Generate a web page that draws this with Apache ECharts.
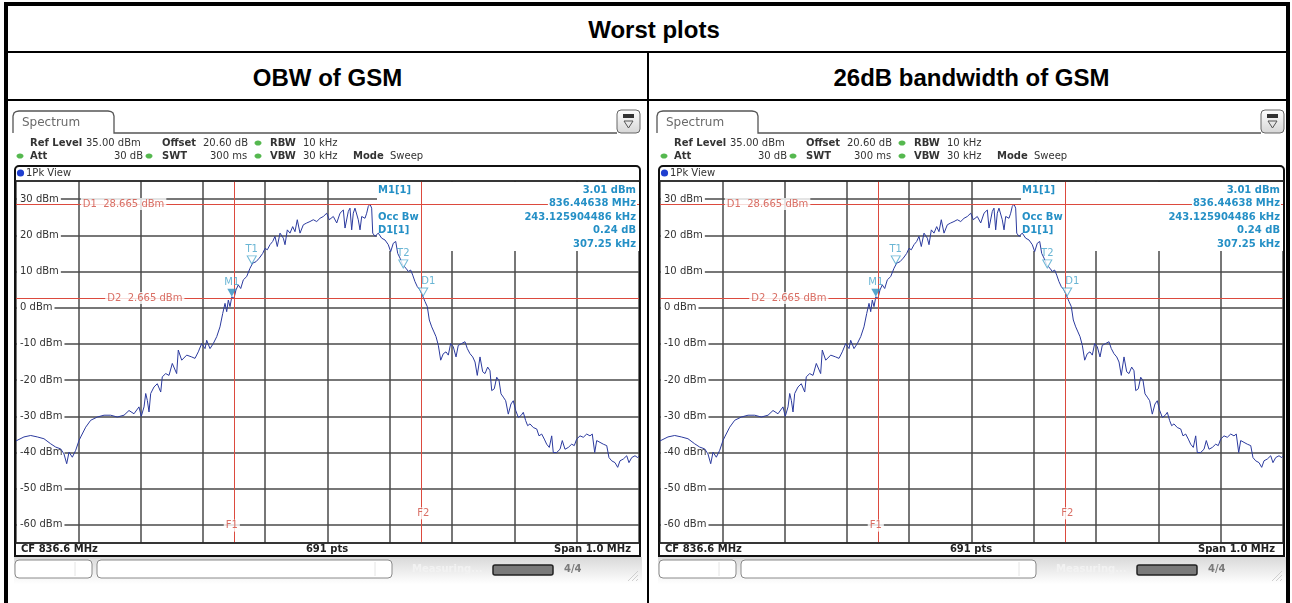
<!DOCTYPE html>
<html>
<head>
<meta charset="utf-8">
<title>Worst plots</title>
<script src="https://cdn.jsdelivr.net/npm/echarts@6/dist/echarts.min.js"></script>
<style>
  html, body { margin: 0; padding: 0; background: #fff; }
  #page { position: relative; width: 1292px; height: 603px; overflow: hidden; font-family: "Liberation Sans", Arial, sans-serif; }
  .ln { position: absolute; background: #000; }
  .hd { position: absolute; font-weight: bold; font-size: 24px; line-height: 24px; text-align: center; color: #000; }
  #chart { position: absolute; left: 0; top: 0; width: 1292px; height: 603px; }
</style>
</head>
<body>
<div id="page">
  <div class="ln" style="left:4px;top:2px;width:4px;height:601px"></div>
  <div class="ln" style="left:4px;top:2px;width:1286px;height:4px"></div>
  <div class="ln" style="left:1286px;top:2px;width:4px;height:601px"></div>
  <div class="ln" style="left:4px;top:51px;width:1286px;height:2px"></div>
  <div class="ln" style="left:4px;top:99px;width:1286px;height:2px"></div>
  <div class="ln" style="left:647px;top:51px;width:2px;height:552px"></div>
  <div class="hd" style="left:8px;width:1292px;top:18px">Worst plots</div>
  <div class="hd" style="left:8px;width:639px;top:66px">OBW of GSM</div>
  <div class="hd" style="left:653px;width:637px;top:66px">26dB bandwidth of GSM</div>
  <div id="chart"></div>
</div>
<script>
// trace (MHz / dBm)
const freqMHz = [
  836.1000, 836.1021, 836.1128, 836.1236, 836.1342, 836.1449, 836.1557, 836.1637, 836.1717, 836.1770,
  836.1814, 836.1851, 836.1904, 836.1958, 836.2011, 836.2039, 836.2119, 836.2199, 836.2305, 836.2413,
  836.2520, 836.2626, 836.2734, 836.2814, 836.2894, 836.2974, 836.3011, 836.3055, 836.3082, 836.3108,
  836.3135, 836.3162, 836.3215, 836.3268, 836.3323, 836.3348, 836.3403, 836.3456, 836.3509, 836.3525,
  836.3579, 836.3605, 836.3660, 836.3740, 836.3820, 836.3873, 836.3926, 836.3981, 836.4034, 836.4061,
  836.4114, 836.4167, 836.4222, 836.4274, 836.4318, 836.4355, 836.4382, 836.4408, 836.4435, 836.4464,
  836.4499, 836.4531, 836.4568, 836.4607, 836.4649, 836.4703, 836.4756, 836.4799, 836.4852, 836.4905,
  836.4960, 836.4997, 836.5034, 836.5077, 836.5120, 836.5157, 836.5194, 836.5238, 836.5291, 836.5318,
  836.5355, 836.5398, 836.5441, 836.5478, 836.5515, 836.5559, 836.5612, 836.5666, 836.5719, 836.5772,
  836.5827, 836.5880, 836.5933, 836.5987, 836.6029, 836.6093, 836.6148, 836.6201, 836.6254, 836.6281,
  836.6334, 836.6361, 836.6388, 836.6414, 836.6441, 836.6494, 836.6522, 836.6549, 836.6602, 836.6629,
  836.6655, 836.6682, 836.6709, 836.6726, 836.6762, 836.6815, 836.6870, 836.6923, 836.6976, 836.7014,
  836.7056, 836.7095, 836.7127, 836.7164, 836.7207, 836.7260, 836.7297, 836.7335, 836.7368, 836.7404,
  836.7442, 836.7485, 836.7528, 836.7565, 836.7602, 836.7634, 836.7673, 836.7709, 836.7742, 836.7779,
  836.7817, 836.7859, 836.7902, 836.7939, 836.7977, 836.8019, 836.8063, 836.8099, 836.8154, 836.8207,
  836.8244, 836.8287, 836.8331, 836.8368, 836.8404, 836.8448, 836.8491, 836.8528, 836.8571, 836.8608,
  836.8636, 836.8677, 836.8716, 836.8753, 836.8785, 836.8822, 836.8860, 836.8902, 836.8945, 836.8982,
  836.9021, 836.9063, 836.9106, 836.9143, 836.9181, 836.9213, 836.9250, 836.9303, 836.9358, 836.9395,
  836.9438, 836.9480, 836.9518, 836.9560, 836.9599, 836.9624, 836.9679, 836.9732, 836.9769, 836.9812,
  836.9865, 836.9920, 836.9961, 837.0000, 837.0053, 837.0106, 837.0161, 837.0213, 837.0250, 837.0278,
  837.0289, 837.0321, 837.0374, 837.0427, 837.0482, 837.0518, 837.0562, 837.0615, 837.0658, 837.0695,
  837.0748, 837.0803, 837.0839, 837.0883, 837.0936, 837.0979, 837.1000
];
const levelDbm = [
  -36.8, -37.1, -35.7, -35.3, -35.7, -36.2, -37.6, -38.5, -39.0, -40.4,
  -43.1, -39.9, -41.3, -39.4, -36.7, -35.7, -33.0, -31.1, -30.2, -29.7,
  -29.7, -30.2, -29.7, -28.4, -29.3, -27.4, -30.0, -27.4, -23.7, -25.6,
  -28.8, -23.7, -21.9, -21.0, -23.3, -19.1, -18.2, -18.7, -15.4, -15.0,
  -18.2, -11.7, -14.5, -13.1, -13.6, -14.0, -12.2, -9.9, -11.3, -9.0,
  -11.3, -9.9, -8.0, -5.3, -1.6, 1.2, -1.1, 2.1, 0.3, 3.0,
  2.6, 4.9, 6.3, 5.3, 7.7, 8.6, 10.9, 12.3, 12.7, 13.7,
  15.0, 16.4, 16.0, 17.4, 18.3, 19.7, 16.9, 20.6, 19.2, 17.4,
  21.5, 20.6, 22.4, 21.0, 24.3, 20.6, 22.9, 23.4, 23.8, 24.3,
  23.8, 24.7, 25.2, 26.1, 24.3, 25.2, 23.4, 26.1, 27.0, 22.0,
  26.6, 27.5, 21.5, 26.1, 27.5, 24.3, 21.5, 25.2, 24.7, 26.1,
  28.0, 28.6, 27.5, 20.6, 19.7, 20.6, 19.2, 18.7, 17.4, 15.5,
  17.8, 18.3, 15.0, 13.7, 11.8, 10.9, 10.0, 10.4, 9.0, 7.2,
  5.8, 4.9, 3.2, 1.7, 0.3, -3.4, -5.3, -6.7, -8.0, -10.4,
  -14.5, -12.7, -12.2, -13.1, -9.9, -10.8, -13.6, -10.4, -9.9, -9.4,
  -11.3, -12.7, -13.6, -15.0, -18.7, -13.6, -17.7, -18.2, -16.4, -17.4,
  -22.9, -22.4, -19.2, -20.1, -23.8, -24.7, -25.7, -29.4, -26.6, -25.7,
  -28.4, -30.3, -29.8, -28.9, -31.2, -32.6, -32.1, -33.1, -33.5, -35.4,
  -34.9, -36.3, -37.7, -38.6, -35.4, -40.0, -40.0, -39.1, -36.7, -39.1,
  -38.6, -37.7, -38.1, -36.3, -35.4, -35.8, -34.9, -35.4, -34.9, -34.9,
  -40.0, -36.7, -37.2, -37.7, -38.1, -41.4, -42.3, -42.8, -44.1, -42.3,
  -41.8, -40.9, -42.8, -41.4, -40.9, -41.4, -41.0
];

const markerNames = ['M1', 'T1', 'T2', 'D1'];
const markerFreq = [836.44638, 836.4784, 836.7216, 836.75363];
const markerLevel = [3.01, 12.1, 11.0, 3.25];
const displayLines = [28.665, 2.665];
const freqLines = [836.44638, 836.75363];
const lineLabels = ['D1  28.665 dBm', 'D2  2.665 dBm', 'F1', 'F2'];
const lineLabelPos = [[836.2032, 28.665], [836.2424, 2.665], [836.44638, -60.2], [836.75363, -56.8]];
const infoLeft = ['M1[1]', 'Occ Bw', 'D1[1]'];
const infoRight = ['3.01 dBm', '836.44638 MHz', '243.125904486 kHz', '0.24 dB', '307.25 kHz'];

const FONT = 'DejaVu Sans';
const RED = '#dc4a3e';
const BLUE = '#2590c6';
const TEAL = '#43a2c9';
const GRID_COLOR = '#4a4a4a';
const TRI = 'path://M0,0 L10,0 L5,9 Z';
const PANEL_SHIFT = [0, 644];

const txt = (x, y, text, opts = {}) => ({
  type: 'text',
  x: x,
  y: y,
  z: opts.z || 10,
  style: {
    text: text,
    fill: opts.color || '#333',
    font: (opts.bold ? 'bold ' : '') + (opts.size || 10) + 'px "' + FONT + '"',
    align: opts.align || 'left',
    verticalAlign: 'middle',
    backgroundColor: opts.bg,
    padding: opts.bg ? [1, 1] : 0,
  },
});

const panelGraphics = (dx) => {
  const els = [];
  // tab + line under it
  els.push({
    type: 'polyline',
    z: 10,
    shape: {
      points: [[13, 133], [13, 116], [14, 113], [16, 111.5], [19, 111], [108, 111], [111, 111.5],
        [113, 113], [114, 116], [114, 133], [617, 133]].map((p) => [p[0] + dx, p[1]]),
    },
    style: { fill: null, stroke: '#555', lineWidth: 1.3 },
  });
  els.push(txt(22 + dx, 123, 'Spectrum', { color: '#6a6a6a', size: 12 }));
  // icon at top right
  els.push({
    type: 'rect', z: 10,
    shape: { x: 617 + dx, y: 110, width: 23, height: 23, r: 4 },
    style: {
      stroke: '#666', lineWidth: 1,
      fill: new echarts.graphic.LinearGradient(0, 0, 0, 1, [
        { offset: 0, color: '#ffffff' },
        { offset: 1, color: '#d6d6d6' },
      ]),
    },
  });
  els.push({ type: 'rect', z: 11, shape: { x: 623 + dx, y: 114, width: 11, height: 4 }, style: { fill: '#333' } });
  els.push({
    type: 'polygon', z: 11,
    shape: { points: [[624 + dx, 121], [633 + dx, 121], [628.5 + dx, 128]] },
    style: { fill: null, stroke: '#555', lineWidth: 1 },
  });

  // settings lines
  els.push(txt(30 + dx, 143, 'Ref Level', { bold: true }));
  els.push(txt(86 + dx, 143, '35.00 dBm'));
  els.push(txt(162 + dx, 143, 'Offset', { bold: true }));
  els.push(txt(203 + dx, 143, '20.60 dB'));
  els.push(txt(270 + dx, 143, 'RBW', { bold: true }));
  els.push(txt(303 + dx, 143, '10 kHz'));
  els.push(txt(30 + dx, 156, 'Att', { bold: true }));
  els.push(txt(143 + dx, 156, '30 dB', { align: 'right' }));
  els.push(txt(162 + dx, 156, 'SWT', { bold: true }));
  els.push(txt(210 + dx, 156, '300 ms'));
  els.push(txt(270 + dx, 156, 'VBW', { bold: true }));
  els.push(txt(303 + dx, 156, '30 kHz'));
  els.push(txt(353 + dx, 156, 'Mode', { bold: true }));
  els.push(txt(390 + dx, 156, 'Sweep'));
  [[258, 143], [20, 156], [149, 156], [258, 156]].forEach((p) => {
    els.push({
      type: 'ellipse', z: 10,
      shape: { cx: p[0] + dx, cy: p[1], rx: 3.5, ry: 2.6 },
      style: { fill: '#55b84f' },
    });
  });

  // window frame
  els.push({
    type: 'rect', z: 12,
    shape: { x: 15 + dx, y: 166, width: 625, height: 390, r: [4, 4, 0, 0] },
    style: { fill: null, stroke: '#111', lineWidth: 2 },
  });
  els.push({ type: 'line', z: 12, shape: { x1: 15 + dx, y1: 181, x2: 640 + dx, y2: 181 }, style: { stroke: '#222', lineWidth: 1.5 } });
  els.push({ type: 'line', z: 12, shape: { x1: 15 + dx, y1: 543, x2: 640 + dx, y2: 543 }, style: { stroke: '#222', lineWidth: 1.5 } });
  els.push({ type: 'circle', z: 12, shape: { cx: 20.5 + dx, cy: 173, r: 3.6 }, style: { fill: '#1f3fd0' } });
  els.push(txt(26 + dx, 173, '1Pk View'));

  // marker table
  els.push({
    type: 'rect', z: 1,
    shape: { x: 377 + dx, y: 182, width: 262, height: 69 },
    style: { fill: '#fff' },
  });
  [190, 217, 230.5].forEach((y, k) => {
    els.push(txt(378 + dx, y, infoLeft[k], { bold: true, color: BLUE }));
  });
  [190, 203.5, 217, 230.5, 244].forEach((y, k) => {
    els.push(txt(637 + dx, y, infoRight[k], { bold: true, color: BLUE, align: 'right', bg: '#fff' }));
  });

  // footer of diagram
  els.push(txt(21 + dx, 549.5, 'CF 836.6 MHz', { bold: true, color: '#222' }));
  els.push(txt(327 + dx, 549.5, '691 pts', { bold: true, color: '#222', align: 'center' }));
  els.push(txt(631 + dx, 549.5, 'Span 1.0 MHz', { bold: true, color: '#222', align: 'right' }));

  // status bar
  els.push({
    type: 'rect', z: 2,
    shape: { x: 14 + dx, y: 557, width: 628, height: 27 },
    style: {
      fill: new echarts.graphic.LinearGradient(0, 0, 0, 1, [
        { offset: 0, color: '#d9d9d9' },
        { offset: 1, color: '#ffffff' },
      ]),
    },
  });
  els.push({ type: 'rect', z: 3, shape: { x: 15 + dx, y: 560, width: 77, height: 18, r: 4 }, style: { fill: '#fff', stroke: '#8a8a8a', lineWidth: 1 } });
  els.push({ type: 'rect', z: 3, shape: { x: 97 + dx, y: 560, width: 295, height: 18, r: 4 }, style: { fill: '#fff', stroke: '#8a8a8a', lineWidth: 1 } });
  els.push({ type: 'line', z: 4, shape: { x1: 75 + dx, y1: 562, x2: 75 + dx, y2: 576 }, style: { stroke: '#e4e4e4', lineWidth: 1 } });
  els.push({ type: 'line', z: 4, shape: { x1: 375 + dx, y1: 562, x2: 375 + dx, y2: 576 }, style: { stroke: '#e4e4e4', lineWidth: 1 } });
  els.push(txt(412 + dx, 569, 'Measuring...', { bold: true, color: '#f2f2f2', z: 4 }));
  els.push({ type: 'rect', z: 4, shape: { x: 493 + dx, y: 565, width: 60, height: 10, r: 2 }, style: { fill: '#7a7a7a', stroke: '#222', lineWidth: 1.5 } });
  els.push(txt(564 + dx, 569, '4/4', { bold: true, color: '#7a7a7a', z: 4 }));
  [0, 4, 8].forEach((o) => {
    els.push({ type: 'line', z: 4, shape: { x1: 628 + o + dx, y1: 581, x2: 638 + dx, y2: 571 + o }, style: { stroke: '#cfcfcf', lineWidth: 1 } });
  });
  return els;
};

const tracePoints = freqMHz.map((f, k) => [f, levelDbm[k]]);

const option = {
  animation: false,
  grid: [],
  xAxis: [],
  yAxis: [],
  series: [],
  graphic: { elements: [] },
};

PANEL_SHIFT.forEach((dx, i) => {
  option.grid.push({ left: 16 + dx, top: 181, width: 623, height: 362 });
  option.xAxis.push({
    type: 'value',
    gridIndex: i,
    min: 836.1,
    max: 837.1,
    interval: 0.1,
    axisLine: { show: false },
    axisTick: { show: false },
    axisLabel: { show: false },
    splitLine: { show: true, lineStyle: { color: GRID_COLOR, width: 1.5 } },
  });
  option.yAxis.push({
    type: 'value',
    gridIndex: i,
    min: -65,
    max: 35,
    splitNumber: 10,
    axisLine: { show: false },
    axisTick: { show: false },
    axisLabel: {
      inside: true,
      margin: 1,
      showMinLabel: false,
      showMaxLabel: false,
      formatter: (v) => (v % 10 === 0 ? v + ' dBm' : ''),
      color: '#333',
      fontSize: 10,
      fontFamily: FONT,
      backgroundColor: '#fff',
      padding: [1, 2, 1, 3],
    },
    splitLine: { show: true, lineStyle: { color: GRID_COLOR, width: 1.5 } },
  });
  option.series.push({
    type: 'line',
    xAxisIndex: i,
    yAxisIndex: i,
    data: tracePoints,
    showSymbol: false,
    z: 3,
    lineStyle: { color: '#2b3a9e', width: 1 },
    markLine: {
      silent: true,
      symbol: ['none', 'none'],
      label: { show: false },
      lineStyle: { color: RED, type: 'solid', width: 1 },
      data: displayLines.map((v) => ({ yAxis: v })).concat(freqLines.map((v) => ({ xAxis: v }))),
    },
  });
  option.series.push({
    type: 'scatter',
    xAxisIndex: i,
    yAxisIndex: i,
    z: 5,
    symbolSize: 1,
    itemStyle: { color: 'rgba(0,0,0,0)' },
    data: lineLabels.map((name, k) => ({
      name: name,
      value: lineLabelPos[k],
      label: { position: k < 2 ? 'right' : 'inside' },
    })),
    label: {
      show: true,
      formatter: '{b}',
      distance: 0,
      color: '#cf4b3e',
      backgroundColor: '#fff',
      padding: [1, 2],
      fontSize: 10,
      fontFamily: FONT,
    },
  });
  option.series.push({
    type: 'scatter',
    xAxisIndex: i,
    yAxisIndex: i,
    z: 6,
    symbol: TRI,
    symbolSize: [9, 8],
    symbolOffset: [0, -4],
    data: markerNames.map((name, k) => ({
      name: name,
      value: [markerFreq[k], markerLevel[k]],
      itemStyle: k === 0
        ? { color: '#2a8fc0' }
        : { color: '#fff', borderColor: '#4aa6cc', borderWidth: 1 },
      label: k === 3 ? { offset: [5, 0] } : {},
    })),
    label: {
      show: true,
      position: 'top',
      distance: 1,
      formatter: '{b}',
      color: TEAL,
      fontSize: 10,
      fontFamily: FONT,
    },
  });
  option.graphic.elements = option.graphic.elements.concat(panelGraphics(dx));
});

const myChart = echarts.init(document.getElementById('chart'));
myChart.setOption(option);
</script>
</body>
</html>
